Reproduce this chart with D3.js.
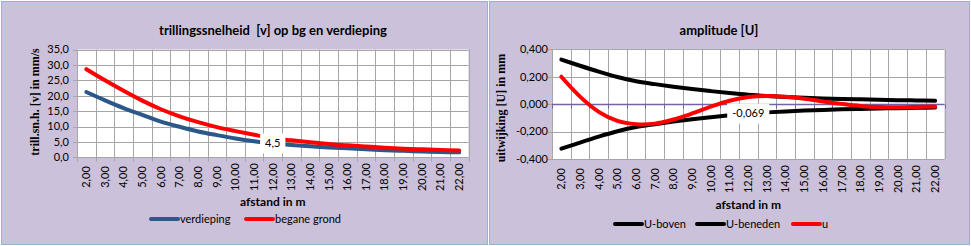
<!DOCTYPE html>
<html>
<head>
<meta charset="utf-8">
<script src="https://cdn.jsdelivr.net/npm/d3@7"></script>
<style>
  body { margin: 0; background: #fff; }
  svg { display: block; }
  text { font-family: Lato, "Liberation Sans", sans-serif; fill: #000; white-space: pre; }
</style>
</head>
<body>
<svg id="chart" width="971" height="246"></svg>
<script>
// afstand in m (categorie-as)
var afstand = [2, 3, 4, 5, 6, 7, 8, 9, 10, 11, 12, 13, 14, 15, 16, 17, 18, 19, 20, 21, 22];

// trillingssnelheid [v] in mm/s
var verdieping = [21.2, 18.5, 16.0, 13.8, 11.6, 9.9, 8.4, 7.2, 6.1, 5.2, 4.5, 4.0, 3.6, 3.2, 2.9, 2.6, 2.3, 2.1, 1.9, 1.7, 1.6];
var beganeGrond = [28.6, 25.0, 21.6, 18.4, 15.6, 13.3, 11.4, 9.8, 8.5, 7.3, 6.2, 5.5, 4.9, 4.3, 3.9, 3.5, 3.1, 2.8, 2.6, 2.4, 2.2];

// amplitude [U] in mm
var uBoven = [0.325, 0.280, 0.237, 0.198, 0.167, 0.146, 0.127, 0.110, 0.095, 0.081, 0.069, 0.060, 0.053, 0.047, 0.042, 0.038, 0.035, 0.032, 0.029, 0.027, 0.025];
var uBeneden = [-0.325, -0.280, -0.237, -0.198, -0.167, -0.146, -0.127, -0.110, -0.095, -0.081, -0.069, -0.060, -0.053, -0.047, -0.042, -0.038, -0.035, -0.032, -0.029, -0.027, -0.025];
var uWaarde = [0.200, 0.055, -0.056, -0.122, -0.146, -0.142, -0.112, -0.068, -0.018, 0.025, 0.052, 0.060, 0.054, 0.040, 0.020, 0.002, -0.013, -0.021, -0.023, -0.021, -0.018];

var vTicks = [0, 5, 10, 15, 20, 25, 30, 35];
var uTicks = [-0.4, -0.2, 0, 0.2, 0.4];

var nl = d3.formatLocale({decimal: ',', thousands: '.', grouping: [3], currency: ['€', ''], minus: '-'});

var svg = d3.select('#chart');

function drawChart(cfg) {
  var g = svg.append('g')
    , p = cfg.plot;

  g.append('rect')
    .attr('x', cfg.panel[0] + 0.5).attr('y', cfg.panel[1] + 0.5)
    .attr('width', cfg.panel[2]).attr('height', cfg.panel[3])
    .attr('fill', '#ccc1da')
    .attr('stroke', '#95b3d7');

  var x = d3.scaleBand().domain(afstand).range([p.x0, p.x1]).padding(0)
    , y = d3.scaleLinear().domain(cfg.yDomain).range([p.y1, p.y0])
    , cx = function (d) { return x(d) + x.bandwidth() / 2; };

  g.append('rect')
    .attr('x', p.x0).attr('y', p.y0)
    .attr('width', p.x1 - p.x0).attr('height', p.y1 - p.y0)
    .attr('fill', '#fff');

  // rasterlijnen
  var bounds = afstand.map(function (d) { return x(d); }).concat([p.x1]);
  g.selectAll('.vgrid').data(bounds).enter().append('line')
    .attr('x1', function (d) { return Math.round(d) + 0.5; })
    .attr('x2', function (d) { return Math.round(d) + 0.5; })
    .attr('y1', p.y0).attr('y2', p.y1)
    .attr('stroke', '#a6a6a6');
  g.selectAll('.hgrid').data(cfg.yTicks).enter().append('line')
    .attr('x1', p.x0 - 4).attr('x2', p.x1)
    .attr('y1', function (d) { return Math.round(y(d)) + 0.5; })
    .attr('y2', function (d) { return Math.round(y(d)) + 0.5; })
    .attr('stroke', '#a6a6a6');

  // x-as (bij 0)
  var axisY = Math.round(y(0)) + 0.5;
  g.append('line')
    .attr('x1', p.x0).attr('x2', p.x1)
    .attr('y1', axisY).attr('y2', axisY)
    .attr('stroke', cfg.axisColor).attr('stroke-width', cfg.axisWidth);
  g.selectAll('.xtick').data(bounds).enter().append('line')
    .attr('x1', function (d) { return Math.round(d) + 0.5; })
    .attr('x2', function (d) { return Math.round(d) + 0.5; })
    .attr('y1', axisY).attr('y2', axisY + 4)
    .attr('stroke', cfg.axisColor);

  // y-labels
  g.selectAll('.ylab').data(cfg.yTicks).enter().append('text')
    .attr('x', cfg.yLabelX)
    .attr('y', function (d) { return y(d); })
    .attr('dy', '0.35em')
    .attr('text-anchor', 'end')
    .style('font-size', '11px')
    .text(nl.format(cfg.yFormat));

  // x-labels, gedraaid
  g.selectAll('.xlab').data(afstand).enter().append('text')
    .attr('transform', function (d) { return 'translate(' + cx(d) + ',' + cfg.xLabelY + ') rotate(-90)'; })
    .attr('dy', '0.35em')
    .attr('text-anchor', 'middle')
    .style('font-size', '11px')
    .text(nl.format('.2f'));

  // titels
  g.append('text')
    .attr('x', cfg.titleX).attr('y', 35)
    .attr('text-anchor', 'middle')
    .style('font', 'bold 13px Lato, sans-serif')
    .text(cfg.title);
  g.append('text')
    .attr('x', (p.x0 + p.x1) / 2).attr('y', cfg.xTitleY)
    .attr('text-anchor', 'middle')
    .style('font', 'bold 12px Lato, sans-serif')
    .text('afstand in m');
  g.append('text')
    .attr('transform', 'translate(' + cfg.yTitleX + ',' + cfg.yTitleY + ') rotate(-90)')
    .attr('text-anchor', 'middle')
    .attr('dy', '0.35em')
    .style('font', 'bold 12px "Liberation Serif", serif')
    .text(cfg.yTitle);

  // lijnen
  var line = d3.line()
    .x(function (d, i) { return cx(afstand[i]); })
    .y(function (d) { return y(d); })
    .curve(d3.curveCardinal.tension(0));

  cfg.series.forEach(function (s) {
    g.append('path')
      .attr('d', line(s.values))
      .attr('fill', 'none')
      .attr('stroke', s.color)
      .attr('stroke-width', 4)
      .attr('stroke-linecap', 'round');
  });

  // datalabel
  var lab = cfg.label
    , lx = cx(afstand[lab.index])
    , ly = y(lab.series.values[lab.index])
    , t = g.append('text')
      .attr('x', lx).attr('y', ly)
      .attr('dy', '0.35em')
      .attr('text-anchor', 'middle')
      .style('font-size', '11px')
      .text(nl.format(lab.format)(lab.series.values[lab.index]));
  var bb = t.node().getBBox();
  g.insert('rect', function () { return t.node(); })
    .attr('x', bb.x - 5).attr('y', ly - 10)
    .attr('width', bb.width + 10).attr('height', 20)
    .attr('fill', '#fff');

  // legenda
  cfg.series.forEach(function (s) {
    var lg = g.append('g').attr('transform', 'translate(' + s.legendX + ',' + cfg.legendY + ')');
    lg.append('line')
      .attr('x1', 0).attr('x2', 27)
      .attr('stroke', s.color).attr('stroke-width', 4)
      .attr('stroke-linecap', 'round');
    lg.append('text')
      .attr('x', 29).attr('dy', '0.35em')
      .style('font-size', '11px')
      .text(s.name);
  });
}

var sVerdieping = {name: 'verdieping', values: verdieping, color: '#2b5789', legendX: 151}
  , sBegane = {name: 'begane grond', values: beganeGrond, color: '#ff0000', legendX: 246}
  , sBoven = {name: 'U-boven', values: uBoven, color: '#000', legendX: 615}
  , sBeneden = {name: 'U-beneden', values: uBeneden, color: '#000', legendX: 697}
  , sU = {name: 'u', values: uWaarde, color: '#ff0000', legendX: 793};

drawChart({
  panel: [1, 1, 486, 243],
  plot: {x0: 77, x1: 468.5, y0: 49.5, y1: 157.3},
  yDomain: [0, 35],
  yTicks: vTicks,
  yFormat: '.1f',
  yLabelX: 69,
  xLabelY: 177,
  xTitleY: 206,
  axisColor: '#a6a6a6',
  axisWidth: 1,
  title: 'trillingssnelheid  [v] op bg en verdieping',
  titleX: 273,
  yTitle: 'trill.sn.h. [v] in mm/s',
  yTitleX: 35,
  yTitleY: 102,
  series: [sVerdieping, sBegane],
  label: {series: sVerdieping, index: 10, format: '.1f'},
  legendY: 219
});

drawChart({
  panel: [489, 1, 480, 243],
  plot: {x0: 552, x1: 944.5, y0: 49.3, y1: 159},
  yDomain: [-0.4, 0.4],
  yTicks: uTicks,
  yFormat: '.3f',
  yLabelX: 548,
  xLabelY: 179,
  xTitleY: 209,
  axisColor: '#7462a6',
  axisWidth: 1.5,
  title: 'amplitude [U]',
  titleX: 719,
  yTitle: 'uitwijking [U] in mm',
  yTitleX: 501,
  yTitleY: 108,
  series: [sBoven, sBeneden, sU],
  label: {series: sBeneden, index: 10, format: '.3f'},
  legendY: 224
});
</script>
</body>
</html>
